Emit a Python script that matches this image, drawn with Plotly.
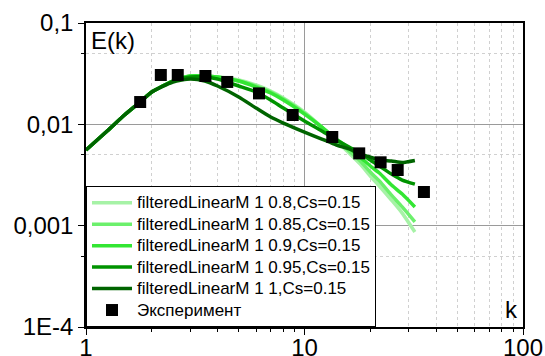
import plotly.graph_objects as go

# Wavenumbers at which the filtered spectra were sampled
k_model = [1, 1.25, 1.5, 1.77, 2, 2.5, 3, 3.5, 4, 5, 6, 7, 8, 10, 12, 14, 16,
           18, 20, 22, 25, 28, 32]

# Energy spectra E(k) for each filter setting (Cs = 0.15)
E_080 = [0.00558, 0.00859, 0.01235, 0.0166, 0.02084, 0.02675, 0.0300, 0.0300,
         0.0293, 0.02737, 0.02443, 0.02131, 0.01818, 0.01322, 0.0094, 0.00684,
         0.00521, 0.00405, 0.00309, 0.00246, 0.00179, 0.00133, 0.000865]
E_085 = [0.00558, 0.00859, 0.01235, 0.0166, 0.02084, 0.02675, 0.0300, 0.0300,
         0.0293, 0.02675, 0.02388, 0.02084, 0.01778, 0.01292, 0.0094, 0.0070,
         0.00545, 0.00434, 0.00338, 0.00276, 0.0020, 0.00153, 0.00109]
E_090 = [0.00558, 0.00859, 0.01235, 0.0166, 0.02084, 0.02675, 0.0300, 0.0300,
         0.0293, 0.02675, 0.02334, 0.02037, 0.01737, 0.01263, 0.0094, 0.00716,
         0.00583, 0.00475, 0.00388, 0.00331, 0.00252, 0.00205, 0.00153]
E_095 = [0.00558, 0.00859, 0.01235, 0.0166, 0.02084, 0.02675, 0.0293, 0.0293,
         0.0280, 0.02388, 0.02084, 0.01737, 0.01448, 0.01078, 0.00859, 0.0070,
         0.00597, 0.00521, 0.00444, 0.00388, 0.00323, 0.00282, 0.00257]
E_100 = [0.00558, 0.00859, 0.01235, 0.0166, 0.02084, 0.02616, 0.0280, 0.02675,
         0.02388, 0.0186, 0.01448, 0.0118, 0.0103, 0.00839, 0.00716, 0.00625,
         0.00571, 0.00509, 0.00475, 0.00444, 0.00434, 0.0042, 0.0044]

# Experimental spectrum
k_exp = [1.77, 2.2, 2.63, 3.52, 4.43, 6.19, 8.83, 13.4, 17.8, 22.3, 26.7, 35.2]
E_exp = [0.0166, 0.0307, 0.0307, 0.0300, 0.0262, 0.0202, 0.01236, 0.0075,
         0.00517, 0.00422, 0.00354, 0.00215]

series_names = [
    "filteredLinearM 1 0.8,Cs=0.15",
    "filteredLinearM 1 0.85,Cs=0.15",
    "filteredLinearM 1 0.9,Cs=0.15",
    "filteredLinearM 1 0.95,Cs=0.15",
    "filteredLinearM 1 1,Cs=0.15",
]
exp_name = "Эксперимент"
series_values = [E_080, E_085, E_090, E_095, E_100]
series_colors = ["#a6f2a6", "#6cf06c", "#33e633", "#009300", "#006400"]

y_ticks = [1e-4, 1e-3, 1e-2, 1e-1]
y_ticktext = ["1E-4", "0,001", "0,01", "0,1"]
x_ticks = [1, 10, 100]
x_ticktext = ["1", "10", "100"]

FONT = "Liberation Sans, Arial, sans-serif"


def legend_label(text):
    # legend rows stay compact while the entry text is set a bit larger
    return f'<span style="font-size:17px">{text}</span>'


fig = go.Figure()
for name, vals, col in zip(series_names, series_values, series_colors):
    fig.add_trace(go.Scatter(
        x=k_model, y=vals, mode="lines", name=legend_label(name),
        line=dict(color=col, width=3.5, shape="spline", smoothing=0.6),
    ))

fig.add_trace(go.Scatter(
    x=k_exp, y=E_exp, mode="markers", name=legend_label(exp_name),
    marker=dict(symbol="square", size=12, color="black",
                line=dict(color="black", width=0)),
))

x_minor = [2, 3, 4, 5, 6, 7, 8, 9, 20, 30, 40, 50, 60, 70, 80, 90]
y_minor = [5e-4, 5e-3, 5e-2]

fig.update_layout(
    width=545, height=356,
    margin=dict(l=86, r=22, t=23, b=29),
    paper_bgcolor="white", plot_bgcolor="white",
    font=dict(family=FONT, color="black"),
    showlegend=True,
    legend=dict(
        x=0, y=0, xanchor="left", yanchor="bottom",
        bgcolor="white", bordercolor="black", borderwidth=1,
        font=dict(size=14.2, family=FONT, color="black"),
        itemwidth=40, tracegroupgap=0,
    ),
    xaxis=dict(
        type="log", range=[0, 2], automargin=False,
        tickvals=x_ticks, ticktext=x_ticktext,
        tickfont=dict(size=24), ticks="outside", ticklen=6,
        ticklabelstandoff=-8,
        tickcolor="black", showline=True, linecolor="black", linewidth=1.5,
        mirror=True, showgrid=True, gridcolor="#9a9a9a", gridwidth=1,
        zeroline=False,
        minor=dict(tickvals=x_minor, ticks="outside", ticklen=3,
                   tickcolor="black", showgrid=True, gridcolor="#d0d0d0",
                   griddash="dot", gridwidth=1),
    ),
    yaxis=dict(
        type="log", range=[-4, -1], automargin=False,
        tickvals=y_ticks, ticktext=y_ticktext,
        tickfont=dict(size=24), ticks="outside", ticklen=6,
        tickcolor="black", showline=True, linecolor="black", linewidth=1.5,
        mirror=True, showgrid=True, gridcolor="#9a9a9a", gridwidth=1,
        zeroline=False,
        minor=dict(tickvals=y_minor, ticks="outside", ticklen=3,
                   tickcolor="black", showgrid=True, gridcolor="#d0d0d0",
                   griddash="dot", gridwidth=1),
    ),
    annotations=[
        dict(text="E(k)", xref="paper", yref="paper", x=0, y=1,
             xanchor="left", yanchor="top", xshift=3, yshift=-2,
             showarrow=False, font=dict(size=24, family=FONT)),
        dict(text="k", xref="paper", yref="paper", x=1, y=0,
             xanchor="right", yanchor="bottom", xshift=-3, yshift=2,
             showarrow=False, font=dict(size=24, family=FONT)),
    ],
)

fig.write_html("out.html")
